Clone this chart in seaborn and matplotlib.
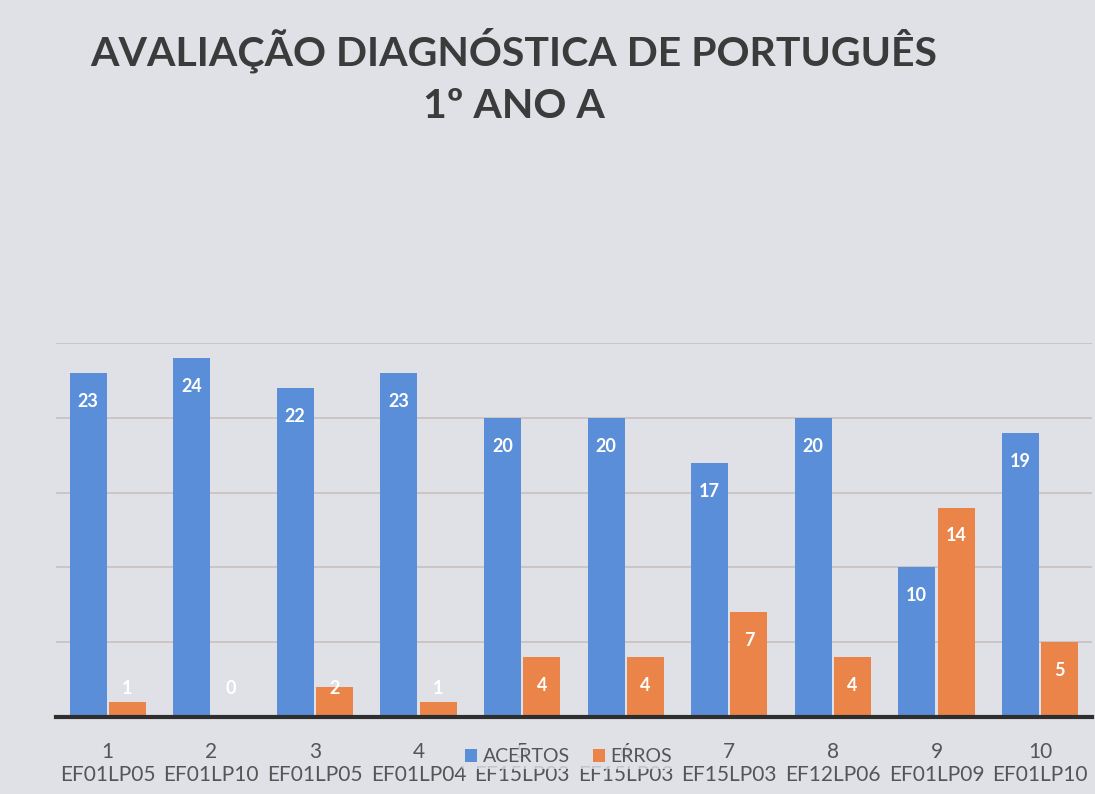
import pandas as pd
import matplotlib
matplotlib.use("Agg")
import matplotlib.pyplot as plt
import seaborn as sns

# dados
questoes = ["1", "2", "3", "4", "5", "6", "7", "8", "9", "10"]
descritores = ["EF01LP05", "EF01LP10", "EF01LP05", "EF01LP04", "EF15LP03",
               "EF15LP03", "EF15LP03", "EF12LP06", "EF01LP09", "EF01LP10"]
acertos = [23, 24, 22, 23, 20, 20, 17, 20, 10, 19]
erros = [1, 0, 2, 1, 4, 4, 7, 4, 14, 5]

BG = "#dfe1e7"
AZUL = "#5b8ed8"
LARANJA = "#ea8449"

sns.set_style("white")
plt.rcParams["font.family"] = ["Lato", "DejaVu Sans"]

rotulos = [f"{q}\n{d}" for q, d in zip(questoes, descritores)]
df = pd.DataFrame({
    "questao": rotulos * 2,
    "valor": acertos + erros,
    "serie": ["ACERTOS"] * len(acertos) + ["ERROS"] * len(erros),
})

fig = plt.figure(figsize=(10.95, 7.94), dpi=100, facecolor=BG)
ax = fig.add_axes([0.0511, 0.097, 0.946, 0.471])
ax.set_facecolor(BG)

sns.barplot(data=df, x="questao", y="valor", hue="serie", order=rotulos,
            palette={"ACERTOS": AZUL, "ERROS": LARANJA},
            width=0.76, gap=0.06, saturation=1, linewidth=0, ax=ax)

ax.set_ylim(0, 25)
ax.set_xlim(-0.5, len(rotulos) - 0.5)
ax.set_yticks([5, 10, 15, 20, 25])
ax.yaxis.grid(True, color="#c9c2c2", linewidth=1.3)
ax.set_axisbelow(True)
ax.set_yticklabels([])
ax.tick_params(axis="y", length=0)
ax.tick_params(axis="x", length=0, pad=18, labelsize=15, labelcolor="#555555")
ax.set_xlabel("")
ax.set_ylabel("")
for lado in ["top", "right", "left"]:
    ax.spines[lado].set_visible(False)
ax.spines["bottom"].set_color("#2e2e2e")
ax.spines["bottom"].set_linewidth(3)

# rótulos de dados (extremidade interna)
for cont in ax.containers:
    for barra in cont:
        h = barra.get_height()
        x = barra.get_x() + barra.get_width() / 2
        ax.text(x, max(h - 1.9, 1.9), f"{h:.0f}", ha="center", va="center",
                color="white", fontsize=13, fontweight="bold")

leg = ax.legend(loc="center", bbox_to_anchor=(0.495, -0.107), ncol=2,
                frameon=True, facecolor=BG, edgecolor="none", framealpha=0.8,
                fontsize=14, handlelength=0.6, handleheight=0.6,
                handletextpad=0.3, columnspacing=1.2, borderpad=0.2)
for t in leg.get_texts():
    t.set_color("#555555")

fig.text(0.469, 0.937, "AVALIAÇÃO DIAGNÓSTICA DE PORTUGUÊS", ha="center",
         va="center", fontsize=29.5, fontweight="bold", color="#3b3b3b")
fig.text(0.469, 0.866, "1º ANO A", ha="center", va="center",
         fontsize=29.5, fontweight="bold", color="#3b3b3b")

plt.savefig("out.png", dpi=100, facecolor=BG)
plt.close()
